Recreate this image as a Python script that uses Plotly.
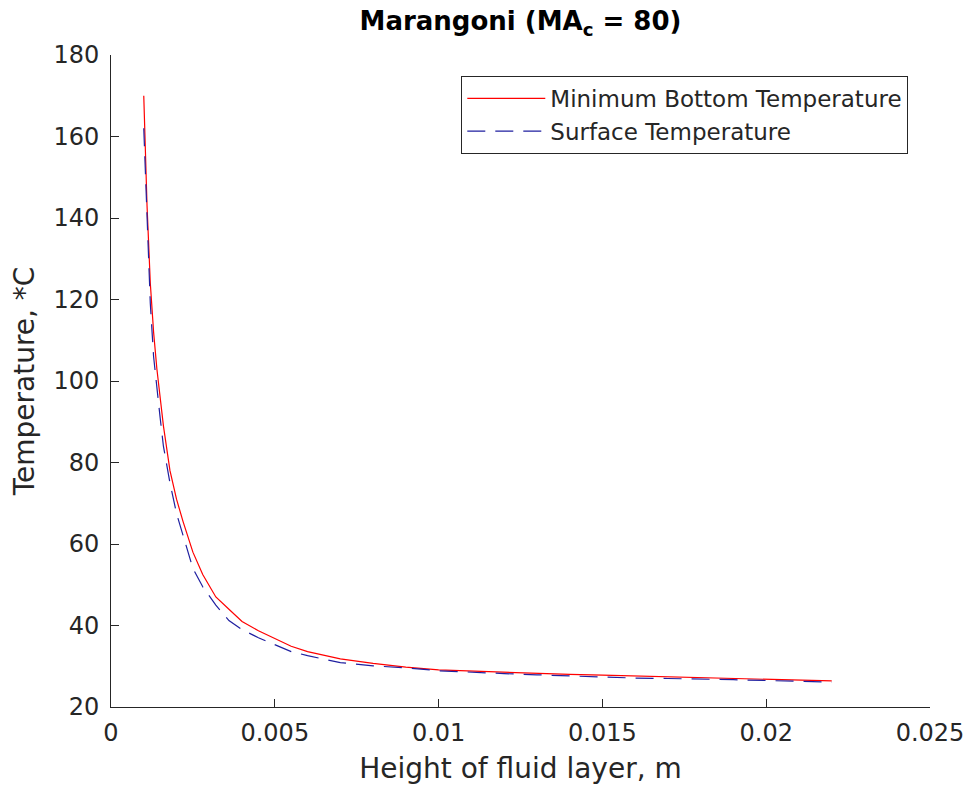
import plotly.graph_objects as go

# Height of fluid layer (m)
height_m = [0.001, 0.0011, 0.0012, 0.0013, 0.0014, 0.0015, 0.0016, 0.0018, 0.002,
            0.0022, 0.0025, 0.0028, 0.0032, 0.0036, 0.004, 0.0045, 0.005, 0.0055,
            0.006, 0.007, 0.008, 0.009, 0.010, 0.011, 0.012, 0.013, 0.014, 0.015,
            0.016, 0.017, 0.018, 0.019, 0.020, 0.021, 0.022]

# Minimum bottom temperature (*C)
min_bottom_temp = [170, 143, 124, 112, 103, 96, 89, 78, 71,
                   65.5, 58, 52.5, 47, 44, 41, 38.7, 36.8, 34.9,
                   33.6, 31.8, 30.7, 29.8, 29.1, 28.8, 28.6, 28.3, 28.0, 27.8,
                   27.6, 27.4, 27.2, 27.0, 26.8, 26.6, 26.4]

# Surface temperature (*C)
surface_temp = [162, 138, 119, 106, 98, 91, 84, 75, 67.5,
                62, 54, 49.5, 45, 41.2, 39, 37, 35.2, 33.6,
                32.6, 30.9, 30.1, 29.6, 28.9, 28.5, 28.2, 27.9, 27.6, 27.3,
                27.1, 27.0, 26.9, 26.7, 26.5, 26.3, 26.1]

x_ticks = [0, 0.005, 0.01, 0.015, 0.02, 0.025]
x_tick_labels = ["0", "0.005", "0.01", "0.015", "0.02", "0.025"]
y_ticks = [20, 40, 60, 80, 100, 120, 140, 160, 180]

AX = "#262626"
FONT = "DejaVu Sans"

fig = go.Figure()
fig.add_trace(go.Scatter(
    x=height_m, y=min_bottom_temp, mode="lines",
    name="Minimum Bottom Temperature",
    line=dict(color="#ff0000", width=1.2),
))
fig.add_trace(go.Scatter(
    x=height_m, y=surface_temp, mode="lines",
    name="Surface Temperature",
    line=dict(color="#1f1fa0", width=1.2, dash="18px,10px"),
))

fig.update_layout(
    width=976, height=790,
    margin=dict(l=111, r=35, t=55, b=78),
    paper_bgcolor="white", plot_bgcolor="white",
    font=dict(family=FONT, color=AX),
    title=dict(
        text="<b>Marangoni (MA<sub>c</sub> = 80)</b>",
        x=0.5, xref="paper", xanchor="center",
        y=1 - 21 / 790, yref="container", yanchor="middle",
        font=dict(family=FONT, size=26, color="black"),
    ),
    showlegend=True,
    legend=dict(
        x=(919 - 111) / 830, xanchor="right",
        y=(712 - 76) / 657, yanchor="top",
        bgcolor="white", bordercolor=AX, borderwidth=1,
        font=dict(family=FONT, size=23, color=AX),
        itemwidth=78,
        tracegroupgap=0,
    ),
)

fig.update_xaxes(
    range=[0, 0.025], tickvals=x_ticks, ticktext=x_tick_labels,
    showline=True, linecolor=AX, linewidth=1,
    ticks="inside", ticklen=8, tickcolor=AX, tickwidth=1,
    showgrid=False, zeroline=False, mirror=False,
    tickfont=dict(family=FONT, size=24, color=AX),
    ticklabelstandoff=4,
    title=dict(text="Height of fluid layer, m",
               font=dict(family=FONT, size=28, color=AX), standoff=12),
)
fig.update_yaxes(
    range=[20, 180], tickvals=y_ticks,
    showline=True, linecolor=AX, linewidth=1,
    ticks="inside", ticklen=8, tickcolor=AX, tickwidth=1,
    showgrid=False, zeroline=False, mirror=False,
    tickfont=dict(family=FONT, size=24, color=AX),
    ticklabelstandoff=6,
    title=dict(text="Temperature, *C",
               font=dict(family=FONT, size=28, color=AX), standoff=10),
)

fig.write_html("out.html")
